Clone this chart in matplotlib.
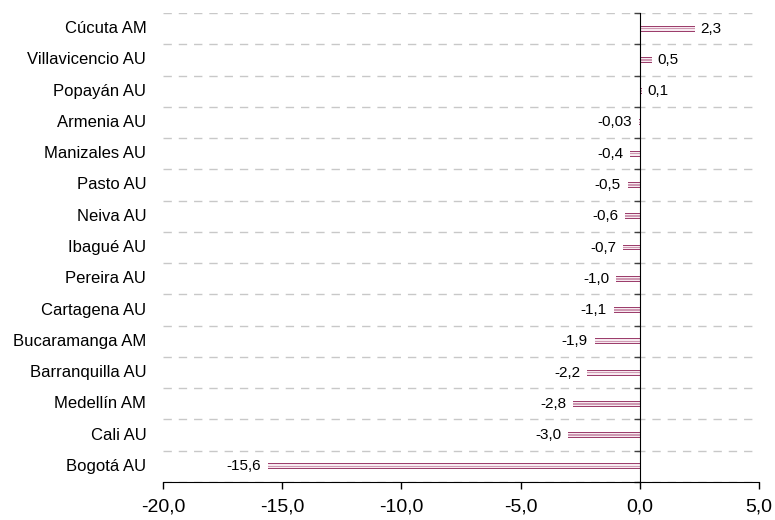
import numpy as np
import matplotlib.pyplot as plt
from matplotlib.ticker import FuncFormatter, FixedLocator

plt.rcParams['font.family'] = ['Liberation Sans', 'DejaVu Sans']

# data
ciudades = ['Cúcuta AM', 'Villavicencio AU', 'Popayán AU', 'Armenia AU', 'Manizales AU',
            'Pasto AU', 'Neiva AU', 'Ibagué AU', 'Pereira AU', 'Cartagena AU',
            'Bucaramanga AM', 'Barranquilla AU', 'Medellín AM', 'Cali AU', 'Bogotá AU']
valores = [2.3, 0.5, 0.1, -0.03, -0.4, -0.5, -0.6, -0.7, -1.0, -1.1, -1.9, -2.2, -2.8, -3.0, -15.6]
etiquetas = ['2,3', '0,5', '0,1', '-0,03', '-0,4', '-0,5', '-0,6', '-0,7', '-1,0', '-1,1',
             '-1,9', '-2,2', '-2,8', '-3,0', '-15,6']
xticks = [-20, -15, -10, -5, 0, 5]

fig = plt.figure(figsize=(7.75, 5.2), dpi=100)
ax = fig.add_axes([163/775, 38/520, 596/775, 469/520])

y = np.arange(len(ciudades))

# thin bars: dark outline, white band, pink core
ax.barh(y, valores, height=0.19, color='#9C3E6C', linewidth=0, zorder=3)
ax.barh(y, valores, height=0.125, color='#F7EAF0', linewidth=0, zorder=3)
ax.barh(y, valores, height=0.05, color='#CF9AB3', linewidth=0, zorder=3)

# value labels
for yi, v, t in zip(y, valores, etiquetas):
    if v >= 0:
        ax.annotate(t, (v, yi), xytext=(4, 0), textcoords='offset points',
                    ha='left', va='center', fontsize=11)
    else:
        ax.annotate(t, (v, yi), xytext=(-5, 0), textcoords='offset points',
                    ha='right', va='center', fontsize=11)

# category labels
for yi, name in zip(y, ciudades):
    ax.text(-0.028, yi, name, transform=ax.get_yaxis_transform(),
            ha='right', va='center', fontsize=12)

ax.set_xlim(-20, 5)
ax.set_ylim(len(ciudades) - 0.5, -0.5)
ax.set_xticks(xticks)
ax.xaxis.set_major_formatter(FuncFormatter(lambda v, p: f'{v:.1f}'.replace('.', ',')))
ax.tick_params(axis='x', labelsize=14, length=5, width=1, direction='out', pad=7)

ax.yaxis.set_major_locator(FixedLocator([]))
ax.yaxis.set_minor_locator(FixedLocator(np.arange(-0.5, len(ciudades) - 0.4, 1)))
ax.tick_params(axis='y', which='minor', length=4, width=1, direction='out', color='#404040')
ax.grid(axis='y', which='minor', linestyle=(0, (6, 5)), color='#C8C8C8', linewidth=1, zorder=0)

ax.spines['left'].set_position(('data', 0))
ax.spines['left'].set_zorder(4)
ax.spines['top'].set_visible(False)
ax.spines['right'].set_visible(False)

fig.savefig('out.png', dpi=100)
